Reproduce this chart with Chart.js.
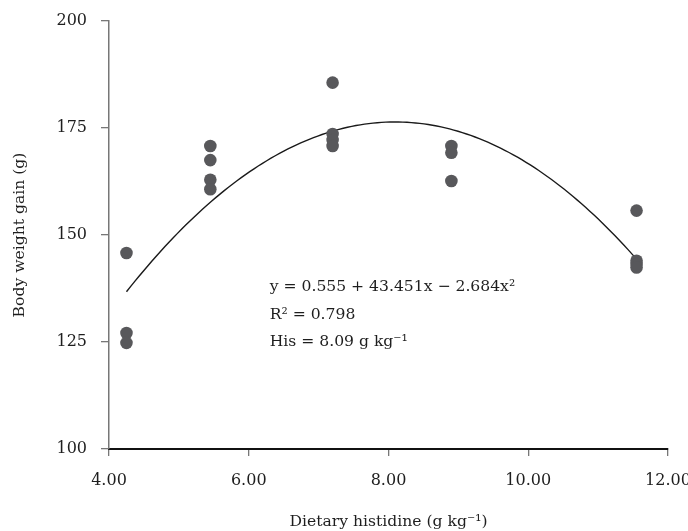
<!DOCTYPE html>
<html><head><meta charset="utf-8">
<script src="https://cdn.jsdelivr.net/npm/chart.js@4.4.0/dist/chart.umd.min.js"></script>
<style>html,body{margin:0;padding:0;background:#fff}#wrap{width:688px;height:531px}</style>
</head><body><div id="wrap"><canvas id="c" width="688" height="531"></canvas></div>
<script>
const pointX = [4.25, 4.25, 4.25,
                5.45, 5.45, 5.45, 5.45,
                7.2, 7.2, 7.2, 7.2,
                8.9, 8.9, 8.9,
                11.55, 11.55, 11.55, 11.55];
const pointY = [145.8, 127.1, 124.8,
                170.8, 167.5, 162.9, 160.7,
                185.6, 173.6, 172.2, 170.8,
                170.8, 169.2, 162.6,
                155.7, 144.0, 143.2, 142.4];
// Fitted regression shown in the chart: y = b0 + b1 x + b2 x^2
const fitCoef = [0.555, 43.451, -2.684];
const fitRange = [4.25, 11.55];
const xTicks = [4, 6, 8, 10, 12];
const yTicks = [100, 125, 150, 175, 200];
const annotationLines = ["y = 0.555 + 43.451x \u2212 2.684x\u00b2", "R\u00b2 = 0.798", "His = 8.09 g kg\u207b\u00b9"];
const xTitle = "Dietary histidine (g kg\u207b\u00b9)";
const yTitle = "Body weight gain (g)";

const FONT = "'DejaVu Serif', serif";
const FS = 15.6;
const TFS = 16;

const scatterData = pointX.map((x, i) => ({x: x, y: pointY[i]}));
const curveData = [];
const nSteps = 120;
for (let i = 0; i <= nSteps; i++) {
  const x = fitRange[0] + (fitRange[1] - fitRange[0]) * i / nSteps;
  curveData.push({x: x, y: fitCoef[0] + fitCoef[1] * x + fitCoef[2] * x * x});
}

const textPlugin = {
  id: 'eqText',
  afterDatasetsDraw(chart) {
    const ctx = chart.ctx;
    const xs = chart.scales.x, ys = chart.scales.y;
    const px = xs.getPixelForValue(6.3);
    const py = ys.getPixelForValue(137.85);
    ctx.save();
    ctx.fillStyle = '#1e1e1e';
    ctx.font = FS + 'px ' + FONT;
    ctx.textBaseline = 'middle';
    ctx.textAlign = 'left';
    annotationLines.forEach((t, i) => ctx.fillText(t, px, py + i * 27.5));
    ctx.restore();
  }
};

new Chart(document.getElementById('c'), {
  type: 'scatter',
  data: {
    datasets: [
      {data: curveData, showLine: true, borderColor: '#1a1a1a', borderWidth: 1.4,
       pointRadius: 0, fill: false, tension: 0, order: 2},
      {data: scatterData, pointRadius: 6.3, pointHoverRadius: 6.3,
       backgroundColor: '#58585b', borderColor: '#58585b', borderWidth: 0, order: 1}
    ]
  },
  options: {
    responsive: false, animation: false, devicePixelRatio: 1,
    layout: {padding: {left: 4, right: 0, top: 21, bottom: 0}},
    plugins: {legend: {display: false}, tooltip: {enabled: false}},
    scales: {
      x: {
        type: 'linear', min: 4, max: 12,
        afterBuildTicks: (s) => { s.ticks = xTicks.map(v => ({value: v})); },
        afterFit: (s) => { s.paddingRight = 20; s.height = 82; },
        ticks: {color: '#1e1e1e', font: {family: FONT, size: TFS}, padding: 15,
                callback: (v) => Number(v).toFixed(2), maxRotation: 0},
        grid: {drawOnChartArea: false, drawTicks: true, tickLength: 7, color: '#777', lineWidth: 1.3},
        border: {color: '#111', width: 2},
        title: {display: true, text: xTitle, color: '#1e1e1e', font: {family: FONT, size: FS}, padding: {top: 0, bottom: 0}}
      },
      y: {
        min: 100, max: 200,
        afterBuildTicks: (s) => { s.ticks = yTicks.map(v => ({value: v})); },
        afterFit: (s) => { s.width = 105; s.paddingTop = 0; },
        ticks: {color: '#1e1e1e', font: {family: FONT, size: TFS}, padding: 14},
        grid: {drawOnChartArea: false, drawTicks: true, tickLength: 8, color: '#777', lineWidth: 1.3},
        border: {color: '#777', width: 1.5},
        title: {display: true, text: yTitle, color: '#1e1e1e', font: {family: FONT, size: FS}, padding: {top: 7, bottom: 0}}
      }
    }
  },
  plugins: [textPlugin]
});
</script></body></html>
